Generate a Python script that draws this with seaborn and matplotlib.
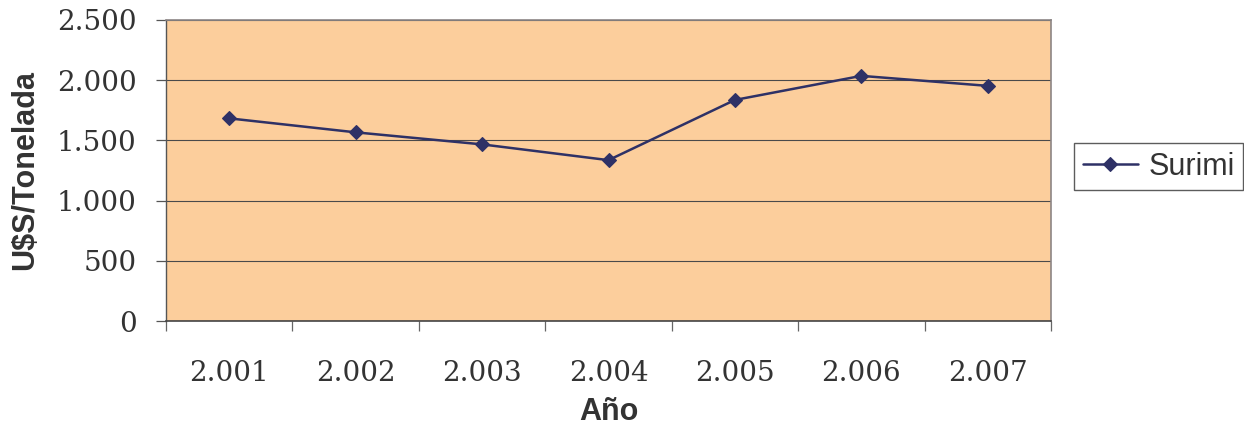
import matplotlib
matplotlib.use("Agg")
import matplotlib.pyplot as plt
from matplotlib.ticker import FixedLocator, NullFormatter, FixedFormatter
import seaborn as sns
import pandas as pd

# Data
anios = ["2.001", "2.002", "2.003", "2.004", "2.005", "2.006", "2.007"]
precios = [1683, 1567, 1467, 1336, 1836, 2036, 1953]
serie = "Surimi"
y_ticks = [0, 500, 1000, 1500, 2000, 2500]
y_tick_labels = ["0", "500", "1.000", "1.500", "2.000", "2.500"]

df = pd.DataFrame({"Año": anios, "Precio": precios, "Serie": serie})

sns.set_theme(style="white")
plt.rcParams["font.family"] = ["Liberation Sans", "DejaVu Sans"]
plt.rcParams["text.color"] = "#333333"

W, H = 1244, 428
fig = plt.figure(figsize=(W / 100, H / 100), dpi=100)
ax = fig.add_axes([166 / W, 1 - 321 / H, (1051 - 166) / W, (321 - 20) / H])
ax.set_facecolor("#FCCE9C")

line_color = "#2E3166"
sns.lineplot(data=df, x="Año", y="Precio", hue="Serie", palette=[line_color],
             marker="D", markersize=7.3, markeredgecolor=line_color,
             markeredgewidth=0.8, linewidth=1.8, ax=ax, sort=False)

n = len(anios)
ax.set_xlim(-0.5, n - 0.5)
ax.set_ylim(0, 2500)

# Y axis
ax.yaxis.set_major_locator(FixedLocator(y_ticks))
ax.yaxis.set_major_formatter(FixedFormatter(y_tick_labels))
ax.grid(axis="y", color="#4a4a4a", linewidth=0.8)
ax.grid(axis="x", visible=False)
ax.tick_params(axis="y", which="major", direction="out", length=7.2, width=0.9,
               color="#555555", pad=14, left=True, labelsize=20, labelcolor="#333333")
for lab in ax.get_yticklabels():
    lab.set_fontfamily(["DejaVu Serif"])

# X axis: boundary ticks + centered labels
ax.xaxis.set_major_locator(FixedLocator([i - 0.5 for i in range(n + 1)]))
ax.xaxis.set_major_formatter(NullFormatter())
ax.xaxis.set_minor_locator(FixedLocator(list(range(n))))
ax.xaxis.set_minor_formatter(FixedFormatter(anios))
ax.tick_params(axis="x", which="major", direction="out", length=7.2, width=0.9,
               color="#666666", bottom=True)
ax.tick_params(axis="x", which="minor", length=0, pad=28, labelsize=20,
               labelcolor="#333333", bottom=True)
for lab in ax.get_xticklabels(minor=True):
    lab.set_fontfamily(["DejaVu Serif"])

for side in ["top", "right"]:
    ax.spines[side].set_color("#8c8585")
    ax.spines[side].set_linewidth(1.2)
ax.spines["left"].set_color("#555555")
ax.spines["bottom"].set_color("#444444")
ax.spines["left"].set_linewidth(1.0)
ax.spines["bottom"].set_linewidth(1.2)

ax.set_xlabel("Año", fontsize=22, fontweight="bold", color="#333333", labelpad=7.5)
ax.set_ylabel(r"U\$S/Tonelada", fontsize=22, fontweight="bold", color="#333333", labelpad=12)

leg = ax.legend(loc="upper left", bbox_to_anchor=(1074 / W, 1 - 143 / H),
                bbox_transform=fig.transFigure, frameon=True, fontsize=22,
                handlelength=1.8, handletextpad=0.35, borderpad=0.28,
                borderaxespad=0, fancybox=False, title=None)
leg.get_frame().set_edgecolor("#333333")
leg.get_frame().set_linewidth(1.0)
for t in leg.get_texts():
    t.set_color("#333333")

fig.savefig("out.png", dpi=100, facecolor="white")
